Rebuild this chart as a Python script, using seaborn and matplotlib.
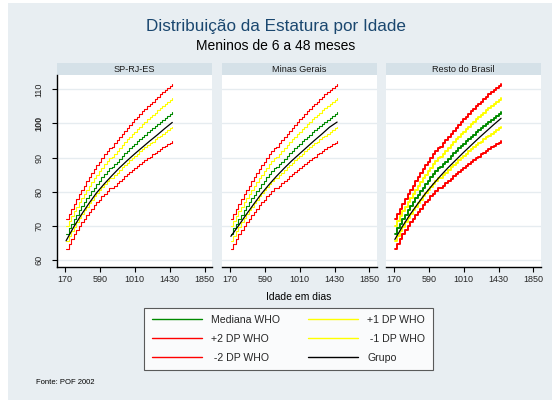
import numpy as np
import pandas as pd
import seaborn as sns
import matplotlib
matplotlib.use("Agg")
import matplotlib.pyplot as plt
from matplotlib.patches import Rectangle
from matplotlib.lines import Line2D

sns.set_style("white")
plt.rcParams['font.family'] = ['Liberation Sans', 'DejaVu Sans']

# ---------------- data ----------------
paineis = ["SP-RJ-ES", "Minas Gerais", "Resto do Brasil"]

meses_who = list(range(6, 49))
who_mediana = [67.6, 69.2, 70.6, 72.0, 73.3, 74.5, 75.7, 76.9, 78.0, 79.1, 80.2, 81.2, 82.3,
               83.2, 84.2, 85.1, 86.0, 86.9, 87.1, 88.0, 88.8, 89.6, 90.4, 91.2, 91.9, 92.7,
               93.4, 94.1, 94.8, 95.4, 96.1, 96.7, 97.4, 98.0, 98.6, 99.2, 99.9, 100.4, 101.0,
               101.6, 102.2, 102.8, 103.3]
who_mais1 = [69.8, 71.3, 72.8, 74.2, 75.6, 76.9, 78.1, 79.3, 80.5, 81.7, 82.8, 83.9, 85.0,
             86.0, 87.0, 88.0, 89.0, 89.9, 90.2, 91.1, 92.0, 92.9, 93.7, 94.5, 95.3, 96.1,
             96.9, 97.6, 98.4, 99.1, 99.8, 100.5, 101.2, 101.8, 102.5, 103.2, 103.8, 104.5,
             105.1, 105.7, 106.3, 106.9, 107.5]
who_menos1 = [65.5, 67.0, 68.4, 69.7, 71.0, 72.2, 73.4, 74.5, 75.6, 76.6, 77.6, 78.6, 79.6,
              80.5, 81.4, 82.3, 83.1, 83.9, 84.1, 84.9, 85.6, 86.4, 87.1, 87.8, 88.5, 89.2,
              89.9, 90.5, 91.1, 91.8, 92.4, 93.0, 93.6, 94.2, 94.7, 95.3, 95.9, 96.4, 97.0,
              97.5, 98.1, 98.6, 99.1]
who_mais2 = [71.9, 73.5, 75.0, 76.5, 77.9, 79.2, 80.5, 81.8, 83.0, 84.2, 85.4, 86.5, 87.7,
             88.8, 89.8, 90.9, 91.9, 92.9, 93.2, 94.2, 95.2, 96.1, 97.0, 97.9, 98.7, 99.6,
             100.4, 101.2, 102.0, 102.7, 103.5, 104.2, 105.0, 105.7, 106.4, 107.1, 107.8,
             108.5, 109.1, 109.8, 110.4, 111.1, 111.7]
who_menos2 = [63.3, 64.8, 66.2, 67.5, 68.7, 69.9, 71.0, 72.1, 73.1, 74.1, 75.0, 76.0, 76.9,
              77.7, 78.6, 79.4, 80.2, 81.0, 81.0, 81.7, 82.5, 83.1, 83.8, 84.5, 85.1, 85.7,
              86.4, 86.9, 87.5, 88.1, 88.7, 89.2, 89.8, 90.3, 90.9, 91.4, 91.9, 92.4, 93.0,
              93.5, 94.0, 94.4, 94.9]

meses_grupo = [6, 9, 12, 15, 18, 21, 24, 27, 30, 33, 36, 39, 42, 45, 48]
grupo_sp = [65.6, 69.6, 73.2, 76.5, 79.6, 82.2, 84.6, 86.9, 89.0, 91.0, 92.9, 94.8, 96.6, 98.5, 100.3]
grupo_mg = [66.9, 70.0, 73.2, 76.3, 79.3, 82.0, 84.5, 86.8, 89.0, 91.0, 93.0, 95.0, 96.9, 98.9, 100.4]
grupo_br = [66.0, 69.8, 73.3, 76.4, 79.4, 82.1, 84.6, 87.0, 89.2, 91.4, 93.5, 95.6, 97.6, 99.6, 101.5]
grupos = [grupo_sp, grupo_mg, grupo_br]

xticks = [170, 590, 1010, 1430, 1850]
yticks = [60, 70, 80, 90, 100, 110]

series_who = [("Mediana WHO", who_mediana), ("+1 DP WHO", who_mais1), ("+2 DP WHO", who_mais2),
              (" -1 DP WHO", who_menos1), (" -2 DP WHO", who_menos2)]
cores = {"Mediana WHO": "#008a00", "+1 DP WHO": "#ffff00", "+2 DP WHO": "#ff0000",
         " -1 DP WHO": "#ffff00", " -2 DP WHO": "#ff0000", "Grupo": "#000000"}

DIAS_MES = 30.4375
rows = []
for nome, vals in series_who:
    for m, v in zip(meses_who, vals):
        rows.append({"dias": m * DIAS_MES, "altura": v, "serie": nome})
df_who = pd.DataFrame(rows)

# ---------------- figure ----------------
W, H = 552, 401
BG = "#e8eef2"
STRIP = "#d5e1e8"
GRID = "#e6ecf0"
fig = plt.figure(figsize=(W / 100, H / 100), dpi=100)
fig.patch.set_facecolor("white")
fig.add_artist(Rectangle((8 / W, 1 / H), (W - 8) / W, (H - 4) / H, transform=fig.transFigure,
                         facecolor=BG, edgecolor="none", zorder=-10))

lefts = [56.7, 221.5, 385.5]
pw = 155.0
top_px, bot_px = 75.0, 266.7
for i, (nome_p, left) in enumerate(zip(paineis, lefts)):
    ax = fig.add_axes([left / W, (H - bot_px) / H, pw / W, (bot_px - top_px) / H])
    ax.set_facecolor("white")
    lw = 1.4 if i == 2 else 0.8
    for nome, _ in series_who:
        sub = df_who[df_who.serie == nome]
        sns.lineplot(data=sub, x="dias", y="altura", ax=ax, color=cores[nome],
                     drawstyle="steps-post", linewidth=lw, estimator=None, legend=False)
    df_g = pd.DataFrame({"dias": [m * DIAS_MES for m in meses_grupo], "altura": grupos[i]})
    sns.lineplot(data=df_g, x="dias", y="altura", ax=ax, color="black", linewidth=0.9,
                 estimator=None, legend=False)

    ax.set_xlim(70, 1935)
    ax.set_ylim(58, 114.2)
    ax.set_xticks(xticks)
    ax.set_yticks(yticks)
    ax.set_xlabel("")
    ax.set_ylabel("")
    ax.grid(axis="y", color=GRID, linewidth=1.0)
    ax.set_axisbelow(True)
    for s in ["top", "right"]:
        ax.spines[s].set_visible(False)
    ax.spines["bottom"].set_color("black")
    ax.spines["bottom"].set_linewidth(1.0)
    ax.tick_params(axis="x", direction="out", length=3.5, width=0.8, color="black",
                   labelsize=6.5, pad=2.5, bottom=True)
    if i == 0:
        ax.spines["left"].set_color("black")
        ax.spines["left"].set_linewidth(1.0)
        ax.tick_params(axis="y", direction="out", length=3.5, width=0.8, color="black",
                       labelsize=6.5, pad=6, left=True)
        for lab in ax.get_yticklabels():
            lab.set_rotation(90)
            lab.set_va("center")
            if lab.get_text() == "100":
                lab.set_fontweight("bold")
    else:
        ax.spines["left"].set_visible(False)
        ax.tick_params(axis="y", left=False, labelleft=False)

    strip_h = 12.0 / (bot_px - top_px)
    ax.add_patch(Rectangle((0, 1), 1, strip_h, transform=ax.transAxes, facecolor=STRIP,
                           edgecolor="none", clip_on=False))
    ax.text(0.5, 1 + strip_h / 2, nome_p, transform=ax.transAxes, ha="center", va="center",
            fontsize=6.6, color="#1a1a1a")

fig.text(276 / W, 1 - 27 / H, "Distribuição da Estatura por Idade", ha="center", va="center",
         fontsize=12.3, color="#1a476f")
fig.text(276 / W, 1 - 46.5 / H, "Meninos de 6 a 48 meses", ha="center", va="center",
         fontsize=10, color="black")
fig.text(298.6 / W, 1 - 296.5 / H, "Idade em dias", ha="center", va="center", fontsize=7.5,
         color="black")
fig.text(36 / W, 1 - 383 / H, "Fonte: POF 2002", ha="left", va="center", fontsize=5.5,
         color="black")

ordem = ["Mediana WHO", "+2 DP WHO", " -2 DP WHO", "+1 DP WHO", " -1 DP WHO", "Grupo"]
handles = [Line2D([0], [0], color=cores[n], linewidth=1.0) for n in ordem]
leg = fig.legend(handles, ordem, loc="center", bbox_to_anchor=(288.5 / W, 1 - 339 / H),
                 ncol=2, fontsize=7.6, frameon=True, fancybox=False, handlelength=4.8,
                 handletextpad=0.85, columnspacing=2.6, labelspacing=0.85, borderpad=0.7)
leg.get_frame().set_edgecolor("#333333")
leg.get_frame().set_linewidth(0.8)
leg.get_frame().set_facecolor("white")

fig.savefig("out.png", dpi=100, facecolor=fig.get_facecolor())
